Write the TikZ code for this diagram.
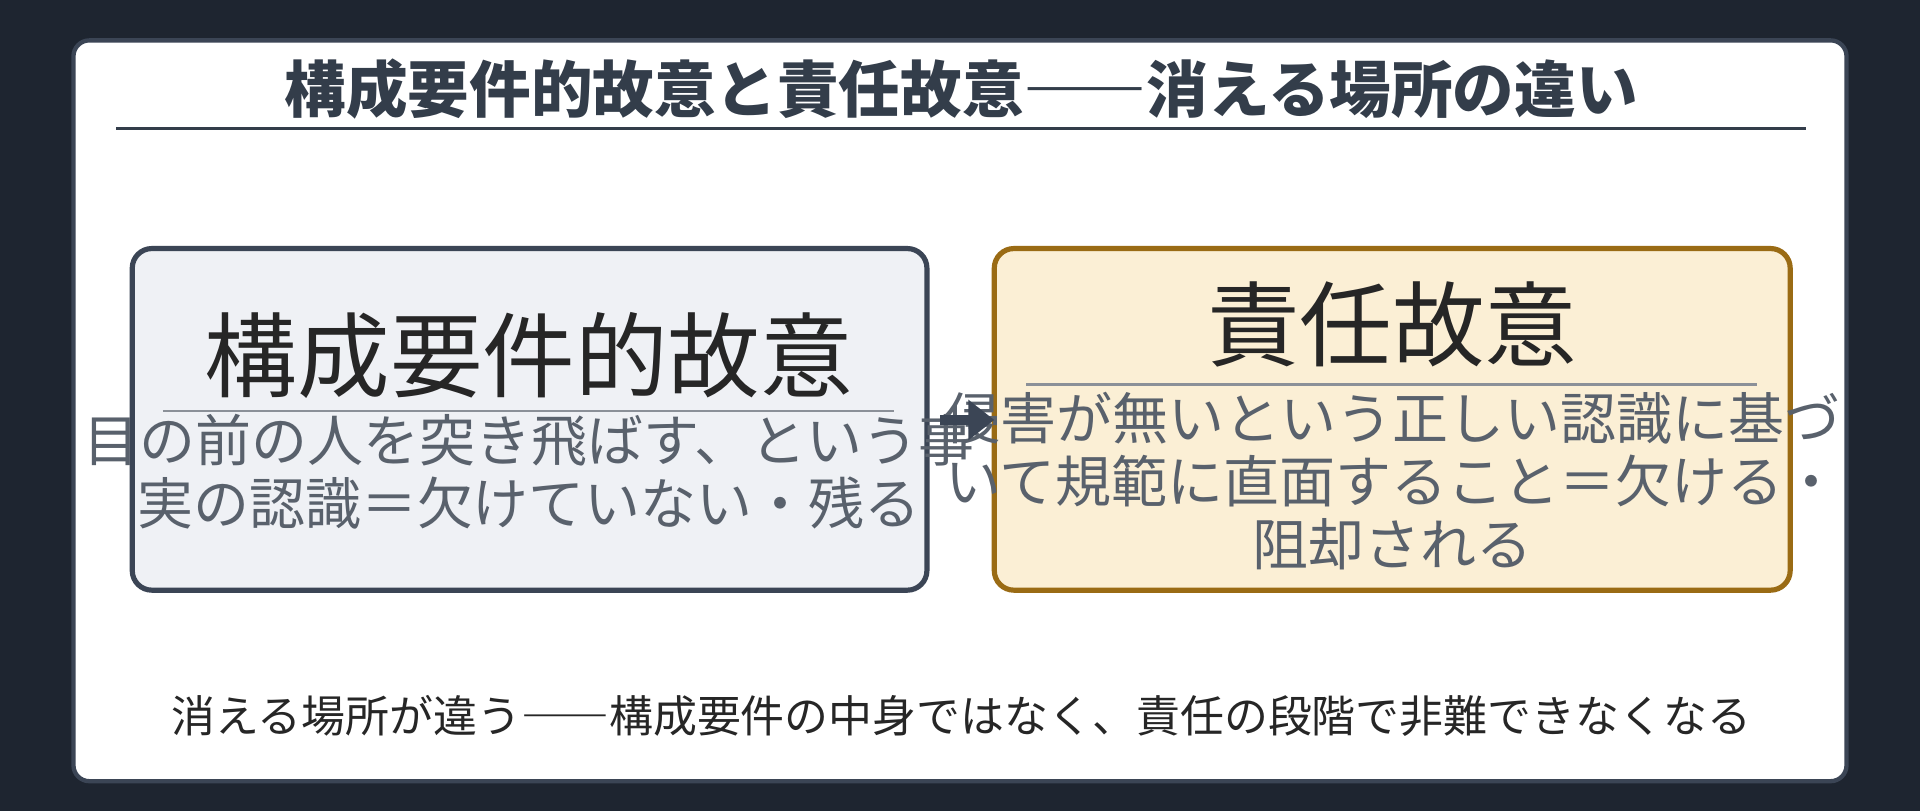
\documentclass[tikz,border=0pt]{standalone}
\usepackage{fontspec}
\setmainfont{Noto Sans CJK JP}
\usetikzlibrary{arrows.meta}
\definecolor{bgdark}{HTML}{1E2530}
\definecolor{ink}{HTML}{333D4A}
\definecolor{grayink}{HTML}{59616C}
\definecolor{leftfill}{HTML}{EFF1F5}
\definecolor{leftline}{HTML}{3B4555}
\definecolor{rightfill}{HTML}{FBEFD5}
\definecolor{rightline}{HTML}{9A6B14}
\begin{document}
\begin{tikzpicture}[x=0.01cm,y=0.01cm,
	box/.style={rounded corners=0.16cm, line width=1.2pt},
	head/.style={font=\fontsize{21.5}{24}\selectfont, text=black!85},
	body/.style={font=\fontsize{13}{14.6}\selectfont, text=grayink, align=center}]
	% background and card
	\fill[bgdark] (0,0) rectangle (1568,662);
	\filldraw[fill=white, draw=leftline, line width=1pt, rounded corners=0.13cm] (60,24) rectangle (1508,629);

	% title
	\node[font=\bfseries\fontsize{14.3}{16}\selectfont, text=ink] (title) at (785,589) {構成要件的故意と責任故意――消える場所の違い};
	\draw[ink, line width=0.6pt] (95,557) -- (1475,557);

	% left box
	\filldraw[box, fill=leftfill, draw=leftline] (108,180) rectangle (757,459);
	\node[head] (lhead) at (432,372) {構成要件的故意};
	\draw[grayink!70, line width=0.5pt] (133,326) -- (730,326);
	\node[body] (lbody) at (432,277) {目の前の人を突き飛ばす、という事\\実の認識＝欠けていない・残る};

	% right box
	\filldraw[box, fill=rightfill, draw=rightline] (812,180) rectangle (1462,459);
	\node[head] (rhead) at (1137,397) {責任故意};
	\draw[grayink!70, line width=0.5pt] (838,348) -- (1435,348);
	\node[body] (rbody) at (1137,269) {侵害が無いという正しい認識に基づ\\いて規範に直面すること＝欠ける・\\阻却される};

	% arrow
	\coordinate (a1) at (768,319);
	\coordinate (a2) at (812,319);
	\draw[-{Triangle[length=6pt,width=9pt]}, leftline, line width=2.4pt] (a1) -- (a2);

	% note
	\node[font=\fontsize{10.2}{12}\selectfont, text=black!85] (note) at (785,77) {消える場所が違う――構成要件の中身ではなく、責任の段階で非難できなくなる};
\end{tikzpicture}
\end{document}
